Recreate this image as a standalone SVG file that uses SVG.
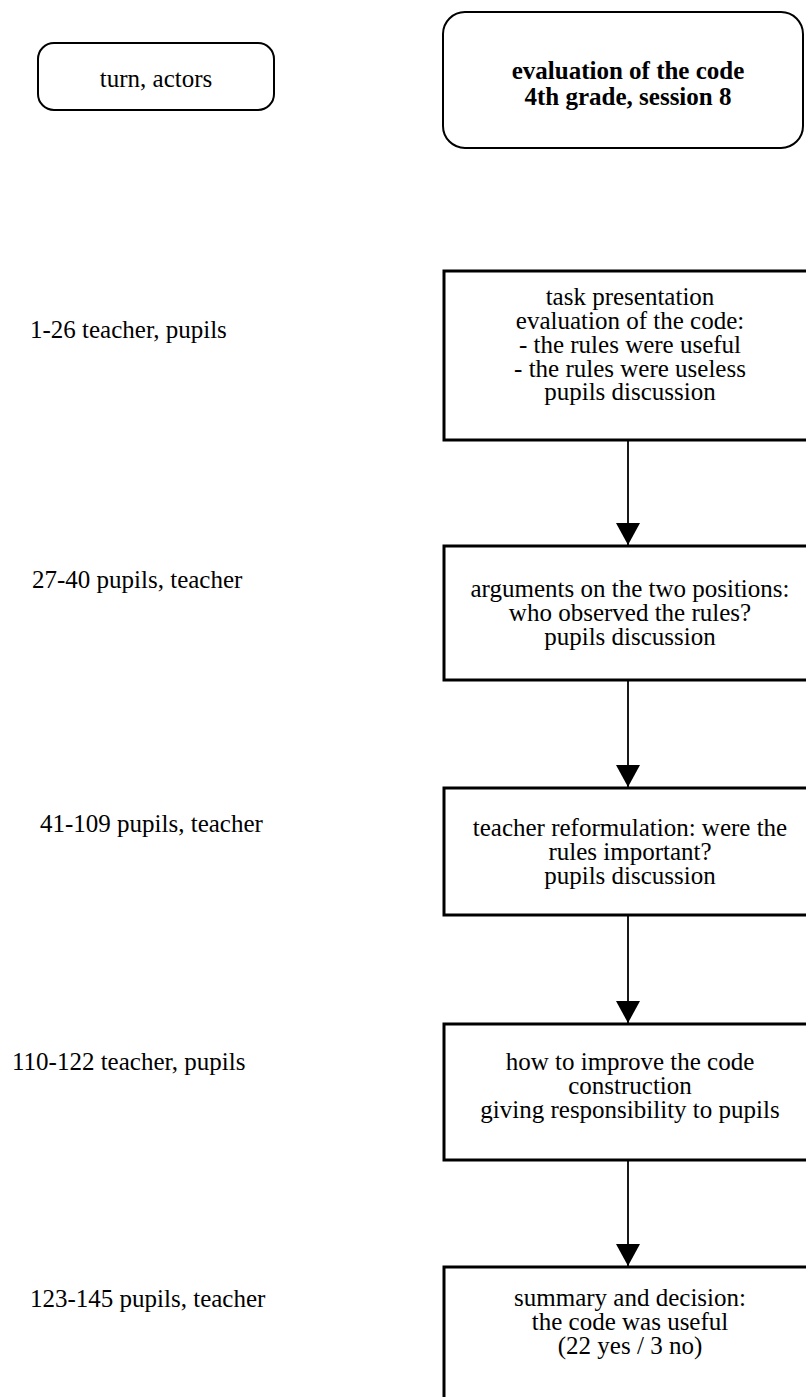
<svg xmlns="http://www.w3.org/2000/svg" width="806" height="1397" viewBox="0 0 806 1397">
<style>
text{font-family:"Liberation Serif","Times New Roman",serif;font-size:25px;fill:#000}
.c{text-anchor:middle}
.b{font-weight:bold}
.rb{fill:#fff;stroke:#000;stroke-width:2}
.bx{fill:#fff;stroke:#000;stroke-width:3}
.ln{stroke:#000;stroke-width:1.8;fill:none}
</style>
<defs>
<marker id="ah" viewBox="0 0 22 24" markerWidth="22" markerHeight="24" refX="22" refY="12" orient="auto" markerUnits="userSpaceOnUse">
<path d="M0,0 L22,12 L0,24 Z" fill="#000"/>
</marker>
</defs>
<rect width="806" height="1397" fill="#fff"/>
<g id="legend">
<rect class="rb" x="38" y="43" width="236" height="67" rx="16"/>
<text class="c" x="156" y="87">turn, actors</text>
</g>
<g id="title">
<rect class="rb" x="443" y="12" width="360" height="136" rx="22"/>
<text class="c b" x="628" y="79">evaluation of the code</text>
<text class="c b" x="628" y="105">4th grade, session 8</text>
</g>
<g id="label1"><text x="30" y="338">1-26 teacher, pupils</text></g>
<g id="label2"><text x="32" y="588">27-40 pupils, teacher</text></g>
<g id="label3"><text x="40" y="832">41-109 pupils, teacher</text></g>
<g id="label4"><text x="12" y="1070">110-122 teacher, pupils</text></g>
<g id="label5"><text x="30" y="1307">123-145 pupils, teacher</text></g>
<g id="step1">
<rect class="bx" x="444" y="271" width="380" height="169"/>
<text class="c" x="630" y="305">task presentation</text>
<text class="c" x="630" y="329">evaluation of the code:</text>
<text class="c" x="630" y="353">- the rules were useful</text>
<text class="c" x="630" y="377">- the rules were useless</text>
<text class="c" x="630" y="400">pupils discussion</text>
</g>
<g id="step2">
<rect class="bx" x="444" y="546" width="380" height="134"/>
<text class="c" x="630" y="597">arguments on the two positions:</text>
<text class="c" x="630" y="621">who observed the rules?</text>
<text class="c" x="630" y="645">pupils discussion</text>
</g>
<g id="step3">
<rect class="bx" x="444" y="788" width="380" height="127"/>
<text class="c" x="630" y="836">teacher reformulation: were the</text>
<text class="c" x="630" y="860">rules important?</text>
<text class="c" x="630" y="884">pupils discussion</text>
</g>
<g id="step4">
<rect class="bx" x="444" y="1024" width="380" height="136"/>
<text class="c" x="630" y="1070">how to improve the code</text>
<text class="c" x="630" y="1094">construction</text>
<text class="c" x="630" y="1118">giving responsibility to pupils</text>
</g>
<g id="step5">
<rect class="bx" x="444" y="1267" width="380" height="160"/>
<text class="c" x="630" y="1306">summary and decision:</text>
<text class="c" x="630" y="1330">the code was useful</text>
<text class="c" x="630" y="1354">(22 yes / 3 no)</text>
</g>
<g id="connectors">
<line class="ln" x1="628" y1="441" x2="628" y2="545" marker-end="url(#ah)"/>
<line class="ln" x1="628" y1="681" x2="628" y2="787" marker-end="url(#ah)"/>
<line class="ln" x1="628" y1="916" x2="628" y2="1023" marker-end="url(#ah)"/>
<line class="ln" x1="628" y1="1161" x2="628" y2="1266" marker-end="url(#ah)"/>
</g>
</svg>
